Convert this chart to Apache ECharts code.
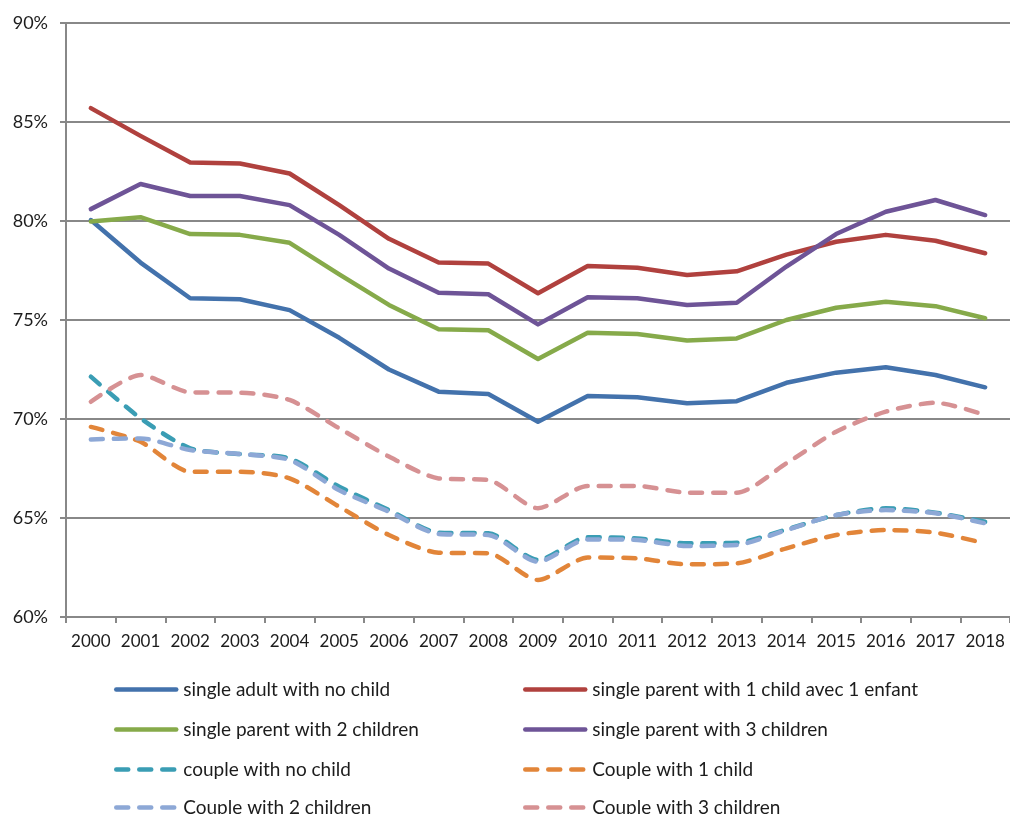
<!DOCTYPE html>
<html>
<head>
<meta charset="utf-8">
<script src="https://cdn.jsdelivr.net/npm/echarts@6/dist/echarts.min.js"></script>
<style>
  html, body { margin: 0; padding: 0; background: #fff; }
  #chart { width: 1010px; height: 814px; }
</style>
</head>
<body>
<div id="chart"></div>
<script>
  var years = ['2000', '2001', '2002', '2003', '2004', '2005', '2006', '2007', '2008', '2009',
    '2010', '2011', '2012', '2013', '2014', '2015', '2016', '2017', '2018']

  var singleNoChild = [80.05, 77.9, 76.1, 76.05, 75.5, 74.1, 72.5, 71.38, 71.26, 69.86,
    71.16, 71.1, 70.79, 70.9, 71.83, 72.34, 72.61, 72.22, 71.6]
  var single1Child = [85.7, 84.3, 82.95, 82.9, 82.4, 80.8, 79.1, 77.9, 77.85, 76.35,
    77.73, 77.64, 77.27, 77.46, 78.3, 78.95, 79.3, 79.0, 78.37]
  var single2Children = [79.97, 80.19, 79.34, 79.3, 78.9, 77.3, 75.76, 74.53, 74.48, 73.03,
    74.36, 74.29, 73.97, 74.07, 75.0, 75.62, 75.92, 75.7, 75.09]
  var single3Children = [80.6, 81.87, 81.26, 81.26, 80.8, 79.3, 77.6, 76.38, 76.3, 74.78,
    76.15, 76.1, 75.76, 75.87, 77.7, 79.34, 80.47, 81.06, 80.3]
  var coupleNoChild = [72.14, 70.04, 68.52, 68.23, 68.01, 66.58, 65.4, 64.26, 64.23, 62.88,
    64.03, 63.97, 63.72, 63.75, 64.42, 65.15, 65.49, 65.27, 64.81]
  var couple1Child = [69.6, 68.85, 67.34, 67.34, 67.0, 65.57, 64.14, 63.25, 63.22, 61.87,
    63.0, 62.96, 62.66, 62.71, 63.47, 64.14, 64.39, 64.26, 63.72]
  var couple2Children = [68.97, 69.02, 68.43, 68.23, 67.93, 66.4, 65.32, 64.19, 64.14, 62.79,
    63.92, 63.89, 63.59, 63.64, 64.39, 65.15, 65.4, 65.24, 64.73]
  var couple3Children = [70.87, 72.22, 71.35, 71.33, 70.96, 69.53, 68.1, 67.0, 66.92, 65.49,
    66.62, 66.62, 66.28, 66.28, 67.76, 69.36, 70.37, 70.82, 70.2]

  var leftNames = ['single adult with no child', 'single parent with 2 children',
    'couple with no child', 'Couple with 2 children']
  var rightNames = ['single parent with 1 child avec 1 enfant', 'single parent with 3 children',
    'Couple with 1 child', 'Couple with 3 children']

  var font = 'Lato, "Open Sans", sans-serif'

  function solid (name, data, color) {
    return {
      name: name,
      type: 'line',
      data: data,
      symbol: 'none',
      itemStyle: { color: color },
      lineStyle: { color: color, width: 4.5, cap: 'round', join: 'round' }
    }
  }

  function dashed (name, data, color) {
    return {
      name: name,
      type: 'line',
      data: data,
      symbol: 'none',
      smooth: 0.25,
      itemStyle: { color: color },
      lineStyle: { color: color, width: 4.5, type: [12, 11], cap: 'round', join: 'round' }
    }
  }

  // one legend per entry so the two columns line up like the original
  var rowTops = [680, 720, 760, 798]
  function legendFor (name, i, left) {
    return {
      data: [name],
      left: left,
      top: rowTops[i],
      padding: 0,
      itemWidth: 60,
      itemHeight: 18,
      itemStyle: { opacity: 0 },
      lineStyle: { width: 4.5 },
      textStyle: { fontFamily: font, fontSize: 19, color: '#1c1c1c', padding: [0, 0, 0, 2] }
    }
  }
  var legends = []
  leftNames.forEach(function (n, i) { legends.push(legendFor(n, i, 114)) })
  rightNames.forEach(function (n, i) { legends.push(legendFor(n, i, 523)) })

  var chart = echarts.init(document.getElementById('chart'))
  chart.setOption({
    animation: false,
    grid: { left: 66, top: 23, right: 0, bottom: 197 },
    legend: legends,
    xAxis: {
      type: 'category',
      data: years,
      boundaryGap: true,
      axisLine: { lineStyle: { color: '#888', width: 2 } },
      axisTick: { show: true, length: 6, lineStyle: { color: '#888', width: 2 } },
      axisLabel: { fontFamily: font, fontSize: 17, color: '#1c1c1c', margin: 16, interval: 0 }
    },
    yAxis: {
      type: 'value',
      min: 60,
      max: 90,
      interval: 5,
      axisLine: { show: true, lineStyle: { color: '#888', width: 2 } },
      axisTick: { show: true, length: 6, lineStyle: { color: '#888', width: 2 } },
      splitLine: { lineStyle: { color: '#888', width: 2 } },
      axisLabel: { fontFamily: font, fontSize: 18, color: '#1c1c1c', margin: 18, formatter: '{value}%' }
    },
    series: [
      solid(leftNames[0], singleNoChild, '#4372AC'),
      solid(rightNames[0], single1Child, '#B0413E'),
      solid(leftNames[1], single2Children, '#86AA4A'),
      solid(rightNames[1], single3Children, '#6E5497'),
      dashed(leftNames[2], coupleNoChild, '#3A9DB4'),
      dashed(rightNames[2], couple1Child, '#E28539'),
      dashed(leftNames[3], couple2Children, '#8DA8D6'),
      dashed(rightNames[3], couple3Children, '#D69193')
    ]
  })
</script>
</body>
</html>
